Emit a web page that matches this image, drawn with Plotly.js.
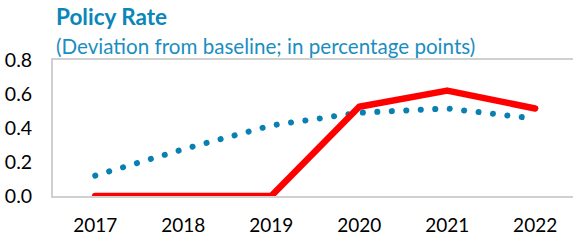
<!DOCTYPE html>
<html>
<head>
<meta charset="utf-8">
<script src="https://cdn.plot.ly/plotly-3.0.1.min.js"></script>
<style>
html,body{margin:0;padding:0;background:#fff;}
#chart{width:573px;height:241px;}
path.js-line{stroke-linecap:round !important;stroke-linejoin:round !important;}
</style>
</head>
<body>
<div id="chart"></div>
<script>
const years = ["2017", "2018", "2019", "2020", "2021", "2022"];
const policyRate = [0, 0, 0, 0.525, 0.62, 0.515];
const baselineDotted = [0.12, 0.275, 0.415, 0.49, 0.515, 0.455];
const yTicks = [0, 0.2, 0.4, 0.6, 0.8];
const yTickLabels = ["0.0", "0.2", "0.4", "0.6", "0.8"];

const font = "Lato, 'Open Sans', 'Noto Sans', sans-serif";

const traces = [
  {
    x: [0,1,2,3,4,5], y: baselineDotted, type: "scatter", mode: "lines",
    line: {color: "#0A7FB2", width: 6, dash: "0.1px,14.4px"},
    hoverinfo: "skip", showlegend: false, cliponaxis: false
  },
  {
    x: [0,1,2,3,4,5], y: policyRate, type: "scatter", mode: "lines",
    line: {color: "#FF0000", width: 6.5},
    hoverinfo: "skip", showlegend: false, cliponaxis: false
  }
];

const layout = {
  width: 573, height: 241,
  margin: {l: 53, r: 0, t: 60, b: 45, pad: 0},
  paper_bgcolor: "#fff", plot_bgcolor: "#fff",
  font: {family: font, color: "#000", size: 19},
  showlegend: false,
  xaxis: {
    range: [-0.48, 5.43],
    tickvals: [0,1,2,3,4,5], ticktext: years,
    showgrid: false, zeroline: false,
    showline: true, linecolor: "#D0D0D0", linewidth: 2, mirror: true,
    ticks: "outside", ticklen: 11, tickcolor: "rgba(0,0,0,0)",
    tickfont: {family: font, size: 19, color: "#000"},
    fixedrange: true
  },
  yaxis: {
    range: [0, 0.8],
    tickvals: yTicks, ticktext: yTickLabels,
    showgrid: false, zeroline: false,
    showline: true, linecolor: "#D0D0D0", linewidth: 2,
    ticks: "outside", ticklen: 15, tickcolor: "rgba(0,0,0,0)",
    tickfont: {family: font, size: 19.5, color: "#000"},
    fixedrange: true
  },
  annotations: [
    {text: "<b>Policy Rate</b>", xref: "paper", yref: "paper", x: 0, y: 1,
     xanchor: "left", yanchor: "bottom", xshift: 1, yshift: 28, showarrow: false,
     font: {family: font, size: 22.5, color: "#0A86B8"}},
    {text: "(Deviation from baseline; in percentage points)", xref: "paper", yref: "paper", x: 0, y: 1,
     xanchor: "left", yanchor: "bottom", xshift: 1, yshift: 0, showarrow: false,
     font: {family: font, size: 20.6, color: "#1A8EC0"}}
  ]
};

Plotly.newPlot("chart", traces, layout, {displayModeBar: false, staticPlot: true});
</script>
</body>
</html>
